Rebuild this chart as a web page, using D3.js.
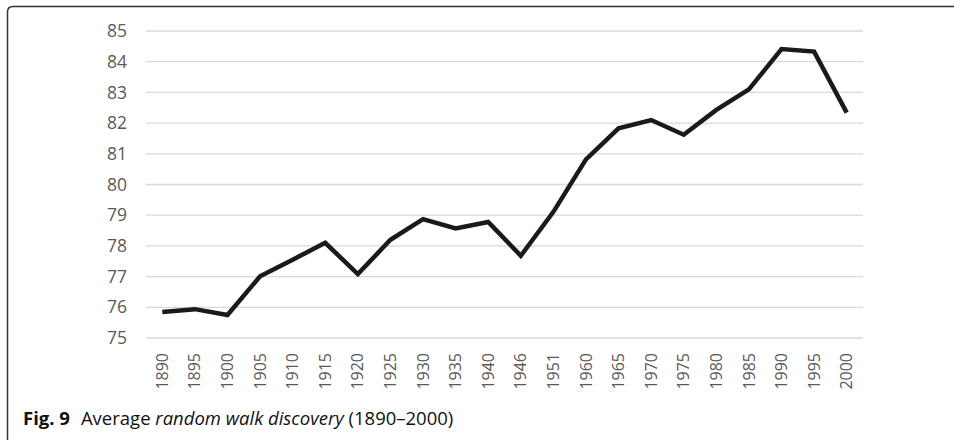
<!DOCTYPE html>
<html>
<head>
<meta charset="utf-8">
<script src="https://cdn.jsdelivr.net/npm/d3@7"></script>
<style>
  body { margin: 0; background: #fff; }
  svg { display: block; }
</style>
</head>
<body>
<svg width="954" height="440"></svg>
<script>
// Values
const years = ["1890", "1895", "1900", "1905", "1910", "1915", "1920", "1925", "1930", "1935", "1940",
               "1946", "1951", "1960", "1965", "1970", "1975", "1980", "1985", "1990", "1995", "2000"];
const discovery = [75.85, 75.94, 75.75, 77.01, 77.55, 78.1, 77.08, 78.2, 78.87, 78.57, 78.78,
                   77.68, 79.11, 80.82, 81.83, 82.1, 81.62, 82.43, 83.1, 84.41, 84.33, 82.34];
const yTicks = [75, 76, 77, 78, 79, 80, 81, 82, 83, 84, 85];

const svg = d3.select("svg"),
      width = +svg.attr("width"),
      height = +svg.attr("height"),
      margin = { top: 31, right: 91, bottom: 102, left: 146 };

const data = years.map((yr, i) => ({ yr, v: discovery[i] }));

// Frame with the rounded top-left corner
svg.append("path")
  .attr("d", `M7.5,${height} V12 Q7.5,6.5 13,6.5 H${width}`)
  .attr("fill", "none")
  .attr("stroke", "#333")
  .attr("stroke-width", 1.5);

const x = d3.scaleBand()
  .domain(years)
  .range([margin.left, width - margin.right]);

const y = d3.scaleLinear()
  .domain([75, 85])
  .range([height - margin.bottom, margin.top]);

// Gridlines
svg.append("g")
  .selectAll("line")
  .data(yTicks)
  .join("line")
  .attr("x1", margin.left)
  .attr("x2", width - margin.right)
  .attr("y1", d => y(d))
  .attr("y2", d => y(d))
  .attr("stroke", "#d9d9d9")
  .attr("stroke-width", 1.3);

// Y axis labels
const yAxis = svg.append("g")
  .attr("transform", `translate(${margin.left - 19},0)`)
  .call(d3.axisLeft(y).tickValues(yTicks).tickSize(0).tickPadding(0));
yAxis.select(".domain").remove();
yAxis.selectAll("text")
  .attr("font-family", "'Open Sans', sans-serif")
  .attr("font-size", "17.5px")
  .attr("fill", "#595959");

// X axis labels, rotated
const xAxis = svg.append("g")
  .attr("transform", `translate(0,${height - margin.bottom})`)
  .call(d3.axisBottom(x).tickSize(0).tickPadding(0));
xAxis.select(".domain").remove();
xAxis.selectAll("text")
  .attr("font-family", "'Open Sans', sans-serif")
  .attr("font-size", "16px")
  .attr("fill", "#595959")
  .attr("text-anchor", "end")
  .attr("transform", "translate(0,15) rotate(-90)")
  .attr("x", 0)
  .attr("y", 0)
  .attr("dy", "0.35em");

// Line
const line = d3.line()
  .x(d => x(d.yr) + x.bandwidth() / 2)
  .y(d => y(d.v));

svg.append("path")
  .datum(data)
  .attr("d", line)
  .attr("fill", "none")
  .attr("stroke", "#1a1a1a")
  .attr("stroke-width", 4.5)
  .attr("stroke-linejoin", "miter");

// Caption
const cap = svg.append("text")
  .attr("x", 23)
  .attr("y", 425)
  .attr("font-family", "'Open Sans', sans-serif")
  .attr("font-size", "18.5px")
  .attr("fill", "#111");
cap.append("tspan").attr("font-weight", "bold").text("Fig. 9");
cap.append("tspan").attr("dx", 11).text("Average ");
cap.append("tspan").attr("font-style", "italic").text("random walk discovery");
cap.append("tspan").text(" (1890–2000)");
</script>
</body>
</html>
